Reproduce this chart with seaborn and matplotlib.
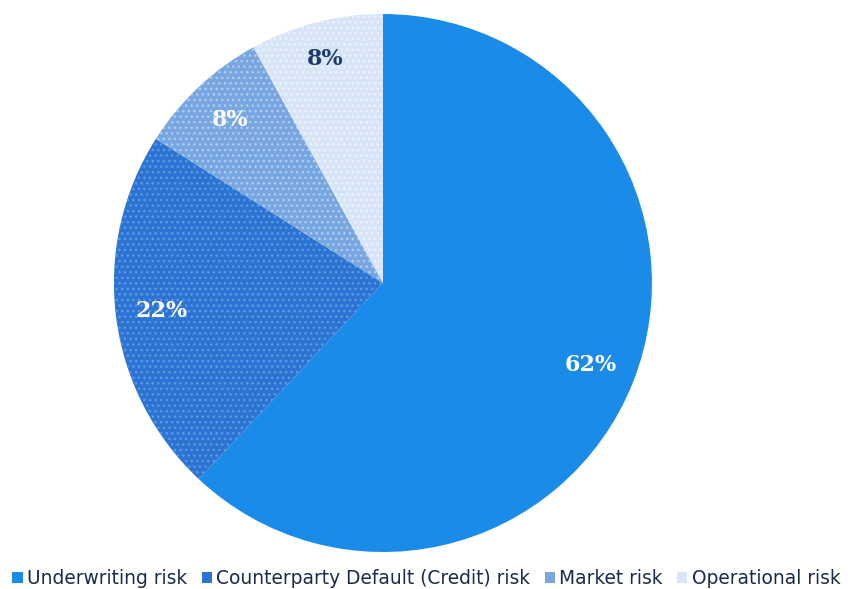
import matplotlib
matplotlib.use("Agg")
import matplotlib.pyplot as plt
import seaborn as sns
import numpy as np
from matplotlib.patches import Patch

categories = ["Underwriting risk", "Counterparty Default (Credit) risk", "Market risk", "Operational risk"]
values = [62, 22, 8, 8]
labels_pct = ["62%", "22%", "8%", "8%"]

colors = ["#1a8be8", "#2b74d3", "#78a6e0", "#d7e5f6"]
hatch_colors = ["#1a8be8", "#5f9ae2", "#b3cdf0", "#eef4fc"]
hatches = [None, "...", "...", "..."]
label_colors = ["white", "white", "white", "#1f3a6e"]

sns.set_theme(style="white")
plt.rcParams["font.family"] = ["DejaVu Sans"]
plt.rcParams["hatch.linewidth"] = 1.0

fig = plt.figure(figsize=(8.53, 5.89), dpi=100)
ax = fig.add_axes([0.1336, 0.0628, 0.6307, 0.9134])

wedges, texts = ax.pie(values, colors=colors, startangle=90, counterclock=False,
                       radius=1.0, wedgeprops=dict(linewidth=0))
for w, h, hc in zip(wedges, hatches, hatch_colors):
    if h:
        w.set_hatch(h)
        w.set_edgecolor(hc)
        w.set_linewidth(0)

dists = [0.83, 0.83, 0.83, 0.86]
for w, lab, lc, d in zip(wedges, labels_pct, label_colors, dists):
    ang = np.deg2rad((w.theta1 + w.theta2) / 2)
    ax.text(d * np.cos(ang), d * np.sin(ang), lab, ha="center", va="center",
            color=lc, fontsize=16, fontweight="bold", family="DejaVu Serif")

ax.set_xlim(-1, 1)
ax.set_ylim(-1, 1)
ax.set_aspect("equal")
ax.axis("off")

handles = [Patch(facecolor=c, edgecolor="none") for c in colors]
fig.legend(handles, categories, loc="center", bbox_to_anchor=(0.5, 0.018), ncol=4,
           frameon=False, fontsize=13.45, handlelength=0.55, handleheight=0.55,
           handletextpad=0.25, columnspacing=0.75, labelcolor="#1a2a4a")

fig.savefig("out.png", dpi=100, facecolor="white")
